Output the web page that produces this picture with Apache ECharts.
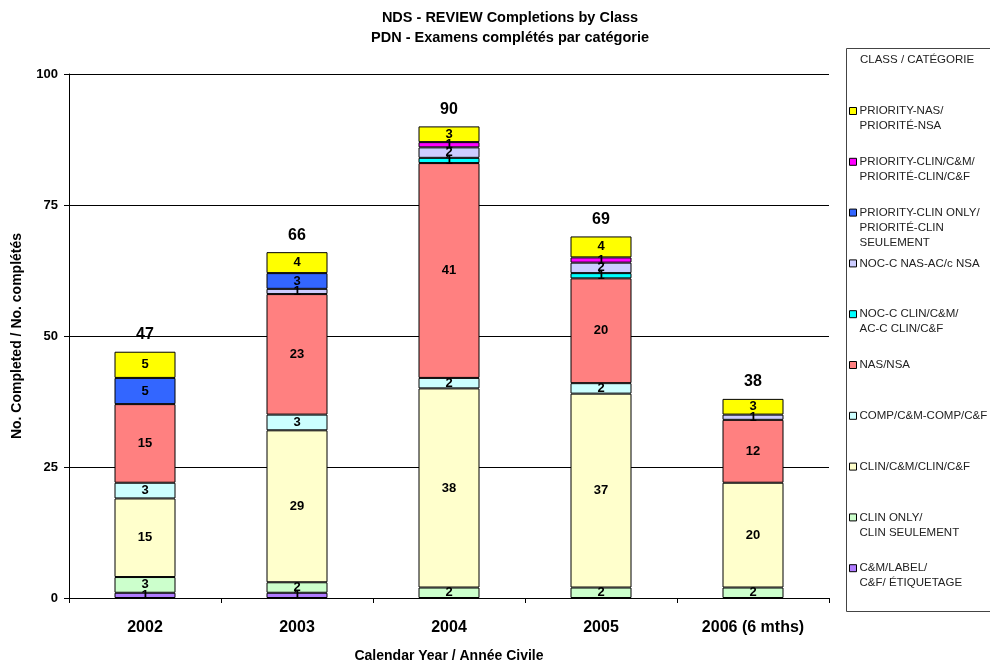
<!DOCTYPE html>
<html>
<head>
<meta charset="utf-8">
<script src="https://cdn.jsdelivr.net/npm/echarts@6/dist/echarts.min.js"></script>
<style>html,body{margin:0;padding:0;background:#fff;}#c{width:990px;height:662px;}</style>
</head>
<body>
<div id="c"></div>
<script>
const categories = ['2002', '2003', '2004', '2005', '2006 (6 mths)'];
const yTicks = [0, 25, 50, 75, 100];

// bottom to top stacking order
const seriesNames = [
  'C&M/LABEL/\nC&F/ ÉTIQUETAGE',
  'CLIN ONLY/\nCLIN SEULEMENT',
  'CLIN/C&M/CLIN/C&F',
  'COMP/C&M-COMP/C&F',
  'NAS/NSA',
  'NOC-C CLIN/C&M/\nAC-C CLIN/C&F',
  'NOC-C NAS-AC/c NSA',
  'PRIORITY-CLIN ONLY/\nPRIORITÉ-CLIN\nSEULEMENT',
  'PRIORITY-CLIN/C&M/\nPRIORITÉ-CLIN/C&F',
  'PRIORITY-NAS/\nPRIORITÉ-NSA'
];
const cmLabel        = [1, 1, 0, 0, 0];
const clinOnly       = [3, 2, 2, 2, 2];
const clinCM         = [15, 29, 38, 37, 20];
const compCM         = [3, 3, 2, 2, 0];
const nasNsa         = [15, 23, 41, 20, 12];
const nocClin        = [0, 0, 1, 1, 0];
const nocNas         = [0, 1, 2, 2, 1];
const priorityClinOnly = [5, 3, 0, 0, 0];
const priorityClinCM = [0, 0, 1, 1, 0];
const priorityNas    = [5, 4, 3, 4, 3];

const seriesValues = [cmLabel, clinOnly, clinCM, compCM, nasNsa, nocClin, nocNas, priorityClinOnly, priorityClinCM, priorityNas];
const colors = ['#B07CFF', '#CCFFCC', '#FFFFCC', '#CCFFFF', '#FF8080', '#00FFFF', '#CCCCFF', '#3366FF', '#FF00FF', '#FFFF00'];

const totals = categories.map((c, i) => seriesValues.reduce((s, arr) => s + arr[i], 0));

const FONT = 'Arial, "Liberation Sans", sans-serif';

const series = seriesNames.map((name, k) => ({
  name: name,
  type: 'bar',
  stack: 'total',
  barWidth: 61,
  data: seriesValues[k].map(v => v === 0 ? null : v),
  itemStyle: { color: colors[k], borderColor: '#000', borderWidth: 1 },
  label: {
    show: true, position: 'inside', color: '#000',
    fontFamily: FONT, fontWeight: 'bold', fontSize: 13
  },
  emphasis: { disabled: true }
}));

series.push({
  name: 'Total',
  type: 'scatter',
  data: totals,
  symbolSize: 0.1,
  itemStyle: { color: '#000', opacity: 1 },
  label: {
    show: true, position: 'top', distance: 9, color: '#000',
    fontFamily: FONT, fontWeight: 'bold', fontSize: 16
  },
  emphasis: { disabled: true },
  z: 10
});

// legend: one legend per item, top to bottom reversed order
const LINE_H = 15;
const legends = [];
const legendOrder = seriesNames.slice().reverse();
legendOrder.forEach((name, i) => {
  const n = name.split('\n').length;
  const blanks = Array(n - 1).fill(' ');
  const H = (2 * n - 1) * LINE_H;
  const iconCenter = 111 + i * 50.8;
  legends.push({
    data: [name],
    orient: 'vertical',
    left: 849,
    top: iconCenter - H / 2,
    padding: 0,
    itemWidth: 7,
    itemHeight: 7,
    itemGap: 0,
    icon: 'rect',
    selectedMode: false,
    itemStyle: { borderColor: '#000', borderWidth: 1 },
    textStyle: { fontFamily: FONT, fontSize: 11.5, color: '#222', lineHeight: LINE_H, padding: [0, 0, 0, -2] },
    formatter: (nm) => blanks.concat(nm.split('\n')).join('\n')
  });
});

const chart = echarts.init(document.getElementById('c'));
chart.setOption({
  animation: false,
  backgroundColor: '#fff',
  title: {
    text: 'NDS - REVIEW Completions by Class\nPDN - Examens complétés par catégorie',
    left: 505, top: 3, textAlign: 'center',
    textStyle: { fontFamily: FONT, fontWeight: 'bold', fontSize: 14.5, lineHeight: 20, color: '#000' }
  },
  legend: legends,
  graphic: [
    { type: 'rect', shape: { x: 846.5, y: 48.5, width: 160, height: 563 }, style: { fill: 'none', stroke: '#444', lineWidth: 1 }, z: -1 },
    { type: 'text', x: 860, y: 60, style: { text: 'CLASS / CATÉGORIE', fontFamily: FONT, fontSize: 11.5, fill: '#222', verticalAlign: 'middle' } }
  ],
  grid: { left: 69, right: 161, top: 74, bottom: 64, containLabel: false, outerBoundsMode: 'none' },
  xAxis: {
    type: 'category',
    data: categories,
    name: 'Calendar Year / Année Civile',
    nameLocation: 'middle',
    nameGap: 51,
    nameTextStyle: { fontFamily: FONT, fontWeight: 'bold', fontSize: 14, color: '#000' },
    axisLine: { lineStyle: { color: '#000', width: 1 } },
    axisTick: { show: true, length: 5, lineStyle: { color: '#000' } },
    axisLabel: { fontFamily: FONT, fontWeight: 'bold', fontSize: 16, color: '#000', margin: 22 }
  },
  yAxis: {
    type: 'value',
    min: yTicks[0], max: yTicks[yTicks.length - 1], interval: 25,
    name: 'No. Completed / No. complétés',
    nameLocation: 'middle',
    nameGap: 45,
    nameTextStyle: { fontFamily: FONT, fontWeight: 'bold', fontSize: 14, color: '#000' },
    axisLine: { show: true, lineStyle: { color: '#000', width: 1 } },
    axisTick: { show: true, length: 5, lineStyle: { color: '#000' } },
    axisLabel: { fontFamily: FONT, fontWeight: 'bold', fontSize: 13, color: '#000', margin: 11 },
    splitLine: { show: true, lineStyle: { color: '#000', width: 1 } }
  },
  series: series
});
</script>
</body>
</html>
